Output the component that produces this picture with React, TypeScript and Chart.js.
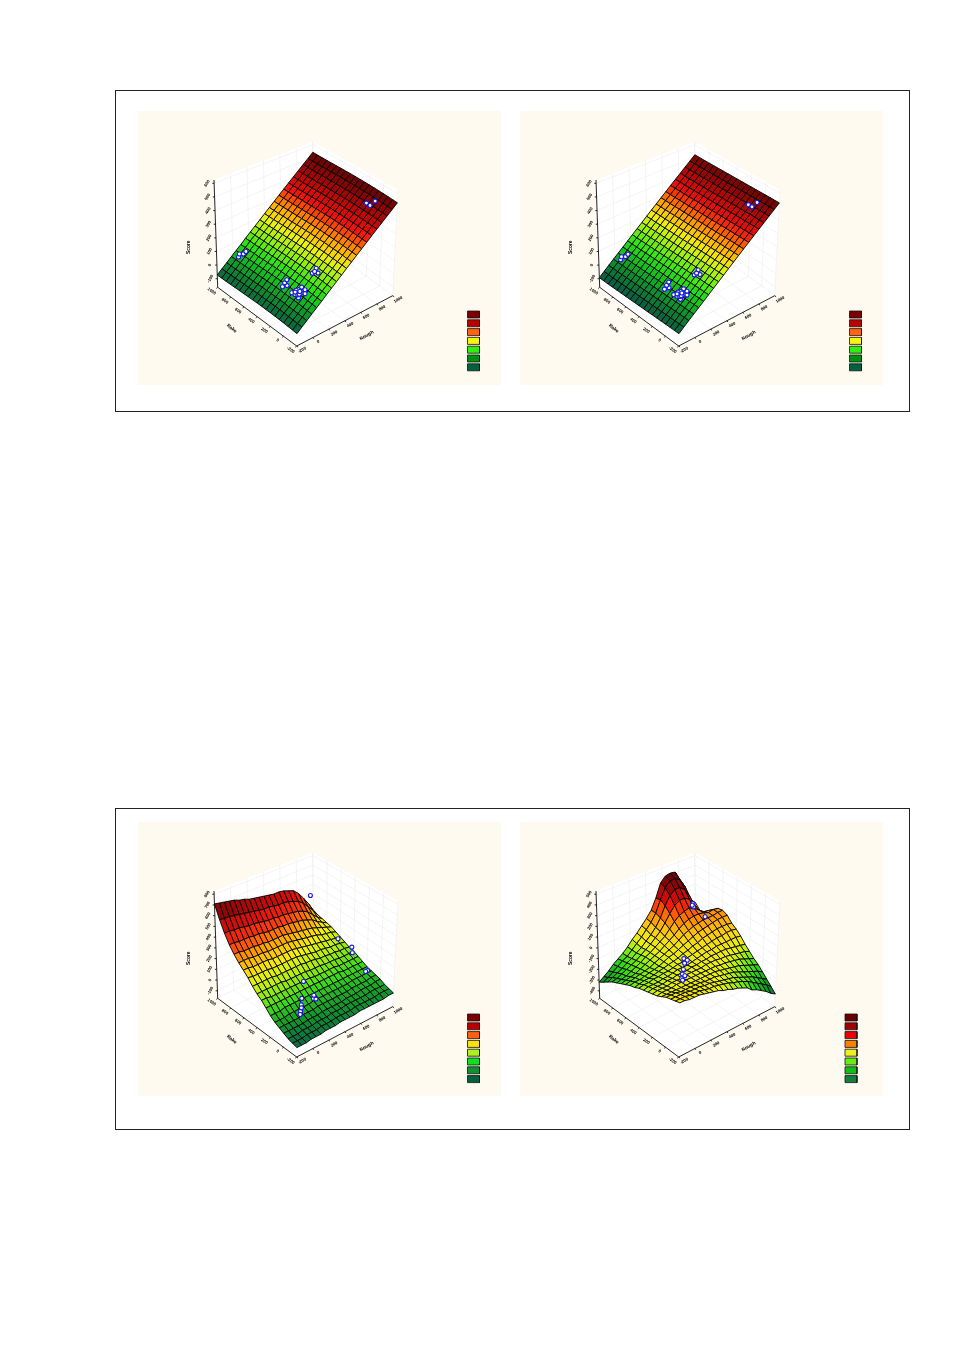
import React, { useEffect, useRef } from "react";
import { Chart, registerables } from "chart.js";

Chart.register(...registerables);

// ---- axis labels (the reference prints them at about 4px, so these are best readings)
const xTickValues = [-200, 0, 200, 400, 600, 800, 1000];
const yTickValues = [-200, 0, 200, 400, 600, 800, 1000];
const xTitle = "Rough";
const yTitle = "Rake";
const zTitle = "Score";

// Heights are read as a percentage of the z axis height.
const zTicks1 = [8, 20.7, 33.4, 46.1, 58.8, 71.5, 84.2, 96.9];
const zLabels1 = ["-100", "0", "100", "200", "300", "400", "500", "600"];
const zTicks3 = [7, 17, 27, 37, 47, 57, 67, 77, 87, 97];
const zLabels3 = ["-100", "0", "100", "200", "300", "400", "500", "600", "700", "800"];
const zLabels4 = ["-400", "-300", "-200", "-100", "0", "100", "200", "300", "400", "500"];

// ---- surfaces: height along x, plus a small bow along y, for the two flat panels
const profile1 = [11.5, 15, 18.4, 22, 25.5, 29, 32.8, 36.5, 40.2, 44, 47.9, 51.8, 55.7, 59.7, 63.7, 67.8, 71.9, 76, 80.3, 84.5, 88.9];
const bow1 = [-1, -0.7, -0.4, -0.1, 0.1, 0.3, 0.4, 0.5, 0.6, 0.6, 0.6, 0.5, 0.4, 0.3, 0.2, 0.1, 0, 0, 0];
const profile2 = [9, 12.5, 16, 19.5, 23, 26.5, 30.2, 33.9, 37.6, 41.4, 45.3, 49.2, 53.1, 57.1, 61.1, 65.2, 69.3, 73.4, 77.7, 81.9, 86.3];
const bow2 = [1.5, 1.4, 1.4, 1.3, 1.2, 1.1, 1, 0.9, 0.8, 0.7, 0.6, 0.5, 0.4, 0.3, 0.2, 0.1, 0, 0, 0];

// rows run along y (front to back), columns along x
const surface3 = [
  [8,8,8,9,9,9,10,10,10,11,11,11,11,12,12,12,12,12,12,13,13],
  [9,9,9,10,10,10,11,11,11,12,12,12,12,13,13,13,13,13,14,14,14],
  [10,10,10,11,11,11,12,12,12,13,13,13,14,14,14,14,14,15,15,15,15],
  [12,12,12,12,12,13,13,13,14,14,14,14,14,15,15,15,16,16,16,17,17],
  [14,14,14,14,14,15,15,15,16,16,16,16,16,16,16,17,17,17,17,18,18],
  [16,16,16,17,17,17,17,17,18,18,18,18,18,18,18,18,19,19,19,19,19],
  [19,19,19,20,20,20,20,20,20,20,20,20,20,20,20,20,20,20,20,20,20],
  [23,23,23,23,23,23,23,23,23,23,23,23,23,23,23,23,22,22,22,22,22],
  [27,27,26,26,26,26,26,26,26,26,26,25,25,25,25,25,24,24,24,24,24],
  [30,30,30,30,30,30,29,29,29,29,29,28,28,28,27,27,27,26,26,26,26],
  [34,34,34,34,34,33,33,33,33,33,33,32,32,31,30,30,29,29,28,28,27],
  [39,38,38,38,38,37,37,37,37,37,37,36,35,34,33,33,32,31,31,30,29],
  [43,43,42,42,42,42,41,41,41,41,41,40,39,38,37,36,35,34,33,32,31],
  [47,47,47,46,46,46,45,45,45,45,45,44,43,42,41,40,39,37,36,35,33],
  [52,52,51,51,51,50,50,49,49,49,49,48,47,46,45,44,43,41,39,37,35],
  [58,58,57,57,57,56,56,55,54,54,54,53,53,52,51,50,48,46,42,39,36],
  [66,66,65,65,64,63,63,62,61,60,60,59,59,58,57,56,54,51,46,41,37],
  [76,75,75,74,73,72,71,70,69,68,68,67,66,66,65,63,61,57,51,45,38],
  [88,87,86,85,84,82,81,79,78,77,76,75,74,74,73,71,69,64,57,49,40],
];

const surface4 = [
  [46,46,45,45,45,44,43,42,41,39,38,36,35,33,31,27,25,22,19,15,12],
  [45,45,45,44,44,44,43,42,42,41,40,39,37,36,34,32,29,26,23,20,16],
  [44,44,44,44,43,43,43,42,42,41,40,39,38,37,35,33,31,29,26,23,20],
  [43,43,43,42,42,42,42,42,41,41,41,40,39,38,37,35,33,31,29,27,24],
  [41,41,41,41,41,41,41,41,41,41,41,41,40,39,38,37,36,34,32,30,28],
  [39,40,40,40,41,41,41,41,41,41,41,41,41,40,40,39,38,37,35,33,31],
  [38,39,39,39,40,40,40,41,41,41,41,42,42,42,41,41,40,39,38,37,35],
  [37,38,38,38,39,39,40,40,40,41,41,42,42,43,43,43,43,42,41,40,39],
  [36,37,37,37,38,38,39,40,40,40,41,42,43,44,44,45,45,45,45,45,44],
  [35,36,36,37,37,38,38,39,40,40,42,43,44,45,46,47,48,48,49,49,48],
  [33,34,35,35,36,37,38,39,40,41,43,44,46,47,49,50,51,52,52,52,51],
  [32,33,33,34,35,36,37,39,41,42,44,46,48,50,52,53,54,55,56,56,56],
  [30,31,32,33,34,35,37,39,41,43,45,48,51,53,55,56,57,57,57,58,58],
  [28,29,30,31,33,35,37,39,41,44,47,50,54,57,59,60,60,59,57,58,57],
  [26,27,28,30,32,34,37,39,42,45,48,53,58,62,64,65,63,59,55,54,52],
  [24,25,27,29,31,33,36,39,42,46,50,56,63,69,72,72,69,62,52,47,44],
  [21,23,25,27,30,32,35,38,42,46,51,58,68,76,80,80,76,67,52,44,40],
  [18,20,23,26,29,31,35,39,43,48,53,60,71,81,86,86,83,74,56,47,43],
  [15,18,21,25,28,31,35,40,44,49,54,60,70,83,88,89,88,78,62,53,48],
];

// ---- observations: [x, y] sit on the surface, [x, y, height] are read with their height
const points12 = [
  [875,90],[875,38],[922,22],[9,927],[32,941],[50,903],[77,897],
  [39,240],[45,284],[11,275],[74,286],
  [16,143],[20,98],[15,41],[56,52],[93,39],[94,90],[64,104],[69,9],[50,120],
  [30,70],[40,60],[60,75],[35,115],
  [224,89],[270,88],[249,35],[244,80],
];
const points3 = [
  [916,940,61],[964,592,31],[964,388,32],[952,364,28],[964,148,20],[940,148,20],
  [316,328,26],[196,208,20],[160,172,17],[112,124,15],[88,100,14],[142,148,16],
  [280,136,20],[292,112,20],[316,172,20],
];
const points4 = [
  [364,412,42],[371,370,42],[318,346,42],[242,273,42],[184,219,42],[185,183,42],[128,164,42],[118,137,42],
  [946,970,50],[947,962,47],[924,954,50],[975,826,42],
];

// ---- colours
const levels1 = [11, 18, 25, 32, 40, 47, 54, 60, 66, 74, 82, 88];
const ramp1 = ["#0a6040","#0e8a30","#15c020","#33e615","#a0f010","#f0f010","#ffb000","#ff6000","#f01010","#c00808","#8a0505","#6a0404"];
const levels3 = [8, 14, 22, 30, 38, 47, 56, 66, 78, 88];
const ramp3 = ["#0a6a45","#139a2a","#3fdc1a","#b0ee10","#f5f010","#ffaa00","#ff4010","#e01010","#a00808","#6a0404"];
const levels4 = [12, 20, 28, 34, 40, 46, 52, 58, 64, 70, 78, 88];
const ramp4 = ["#0d6b3f","#12a020","#30d818","#80ee10","#e8f015","#f5e010","#ffc010","#ff8c00","#ff5000","#f01010","#a80808","#6a0404"];

const legend7 = ["#7a0000","#b80000","#ff6410","#f5f510","#33ee11","#009010","#006040"];
const legend8a = ["#7a0000","#b80000","#ff6010","#ffe010","#b0f020","#10e020","#109030","#006040"];
const legend8b = ["#6a0000","#a00000","#f00000","#ff8000","#f0f020","#66ee10","#10c010","#108040"];

// ---- geometry of the 3D box, in panel pixels
const W = 363;
const H = 274;
const BOX = {
  F: [158.7, 235], R: [254.7, 184.7], L: [79.7, 176.3], B: [175.7, 126],
  Ft: [161.3, 117.3], Rt: [260, 79], Lt: [76, 69], Bt: [174.7, 30.7],
};
const NU = 20;
const NV = 18;

function project(x: number, y: number, z: number) {
  const u = (x + 200) / 1200;
  const v = (y + 200) / 1200;
  const w = z / 100;
  const bil = (a: number[], b: number[], c: number[], d: number[], k: number) =>
    (1 - u) * (1 - v) * a[k] + u * (1 - v) * b[k] + (1 - u) * v * c[k] + u * v * d[k];
  const px = (k: number) =>
    (1 - w) * bil(BOX.F, BOX.R, BOX.L, BOX.B, k) + w * bil(BOX.Ft, BOX.Rt, BOX.Lt, BOX.Bt, k);
  return { x: px(0), y: px(1) };
}

function rampColor(levels: number[], ramp: string[], value: number) {
  const rgb = (h: string) => [1, 3, 5].map((i) => parseInt(h.slice(i, i + 2), 16));
  if (value <= levels[0]) return ramp[0];
  for (let i = 1; i < levels.length; i++) {
    if (value <= levels[i]) {
      const t = (value - levels[i - 1]) / (levels[i] - levels[i - 1]);
      const a = rgb(ramp[i - 1]);
      const b = rgb(ramp[i]);
      const c = a.map((q, k) => Math.round(q + (b[k] - q) * t));
      return `rgb(${c[0]},${c[1]},${c[2]})`;
    }
  }
  return ramp[ramp.length - 1];
}

type PanelSpec = {
  left: number;
  top: number;
  grid: number[][];
  levels: number[];
  ramp: string[];
  legend: string[];
  legendX: number;
  legendTop: number;
  points: number[][];
  zTicks: number[];
  zLabels: string[];
};

const flatGrid = (profile: number[], bow: number[]) => bow.map((b) => profile.map((p) => p + b));

const panels: PanelSpec[] = [
  { left: 138, top: 111, grid: flatGrid(profile1, bow1), levels: levels1, ramp: ramp1, legend: legend7, legendX: 329.5, legendTop: 200, points: points12, zTicks: zTicks1, zLabels: zLabels1 },
  { left: 520, top: 111, grid: flatGrid(profile2, bow2), levels: levels1, ramp: ramp1, legend: legend7, legendX: 329.5, legendTop: 200, points: points12, zTicks: zTicks1, zLabels: zLabels1 },
  { left: 138, top: 822, grid: surface3, levels: levels3, ramp: ramp3, legend: legend8a, legendX: 329.5, legendTop: 192, points: points3, zTicks: zTicks3, zLabels: zLabels3 },
  { left: 520, top: 822, grid: surface4, levels: levels4, ramp: ramp4, legend: legend8b, legendX: 325, legendTop: 192, points: points4, zTicks: zTicks3, zLabels: zLabels4 },
];

const nodeX = (i: number) => -200 + (1200 * i) / NU;
const nodeY = (j: number) => -200 + (1200 * j) / NV;

function heightAt(grid: number[][], x: number, y: number) {
  const fi = Math.min(NU - 0.001, ((x + 200) / 1200) * NU);
  const fj = Math.min(NV - 0.001, ((y + 200) / 1200) * NV);
  const i = Math.floor(fi);
  const j = Math.floor(fj);
  const a = fi - i;
  const b = fj - j;
  return (
    (1 - a) * (1 - b) * grid[j][i] + a * (1 - b) * grid[j][i + 1] +
    (1 - a) * b * grid[j + 1][i] + a * b * grid[j + 1][i + 1]
  );
}

const poly = (pts: { x: number; y: number }[], fillC: string, line: string, lw: number) => ({
  data: [...pts, pts[0]],
  showLine: true,
  fill: "shape",
  backgroundColor: fillC,
  borderColor: line,
  borderWidth: lw,
  pointRadius: 0,
  borderJoinStyle: "round",
  tension: 0,
});

const path = (pts: any[], line: string, lw: number) => ({
  data: pts,
  showLine: true,
  fill: false,
  borderColor: line,
  borderWidth: lw,
  pointRadius: 0,
  spanGaps: false,
  tension: 0,
});

const GAP = { x: NaN, y: NaN };

function buildDatasets(p: PanelSpec) {
  const out: any[] = [];
  // observations on top
  out.push({
    data: p.points.map(([x, y, z]) => project(x, y, z === undefined ? heightAt(p.grid, x, y) : z)),
    showLine: false,
    pointRadius: 2,
    pointBorderWidth: 1.1,
    pointBackgroundColor: "#ffffff",
    pointBorderColor: "#1a1ae0",
  });
  // legend swatches
  p.legend.forEach((c, k) => {
    const t = p.legendTop + k * 8.8;
    const l = p.legendX;
    out.push(poly([{ x: l, y: t }, { x: l + 12, y: t }, { x: l + 12, y: t + 7 }, { x: l, y: t + 7 }], c, "#111111", 0.8));
  });
  // axes with tick marks
  const axisPts: any[] = [
    project(-200, -200, 0), project(1000, -200, 0), GAP,
    project(-200, -200, 0), project(-200, 1000, 0), GAP,
    project(-200, 1000, 0), project(-200, 1000, 100), GAP,
  ];
  xTickValues.forEach((t) => {
    const a = project(t, -200, 0);
    axisPts.push(a, { x: a.x + 1.4, y: a.y + 1.1 }, GAP);
  });
  yTickValues.forEach((t) => {
    const a = project(-200, t, 0);
    axisPts.push(a, { x: a.x - 1.4, y: a.y + 1.1 }, GAP);
  });
  p.zTicks.forEach((t) => {
    const a = project(-200, 1000, t);
    axisPts.push(a, { x: a.x - 1.8, y: a.y }, GAP);
  });
  out.push(path(axisPts, "#111111", 0.9));
  // surface cells, nearest first because the first dataset is painted last
  const cells: { depth: number; ds: any }[] = [];
  for (let j = 0; j < NV; j++) {
    for (let i = 0; i < NU; i++) {
      const h = [p.grid[j][i], p.grid[j][i + 1], p.grid[j + 1][i + 1], p.grid[j + 1][i]];
      const mean = (h[0] + h[1] + h[2] + h[3]) / 4;
      cells.push({
        depth: i + j,
        ds: poly(
          [
            project(nodeX(i), nodeY(j), h[0]),
            project(nodeX(i + 1), nodeY(j), h[1]),
            project(nodeX(i + 1), nodeY(j + 1), h[2]),
            project(nodeX(i), nodeY(j + 1), h[3]),
          ],
          rampColor(p.levels, p.ramp, mean),
          "#050505",
          0.95,
        ),
      });
    }
  }
  cells.sort((a, b) => a.depth - b.depth);
  cells.forEach((c) => out.push(c.ds));
  // faint wall and floor grid
  const gridPts: any[] = [];
  xTickValues.forEach((t) => {
    gridPts.push(project(t, -200, 0), project(t, 1000, 0), project(t, 1000, 100), GAP);
  });
  yTickValues.forEach((t) => {
    gridPts.push(project(-200, t, 0), project(1000, t, 0), project(1000, t, 100), GAP);
  });
  p.zTicks.forEach((t) => {
    gridPts.push(project(-200, 1000, t), project(1000, 1000, t), project(1000, -200, t), GAP);
  });
  out.push(path(gridPts, "#ececec", 0.6));
  // white box
  const c = (x: number, y: number, z: number) => project(x, y, z);
  out.push(poly([c(-200, -200, 0), c(1000, -200, 0), c(1000, 1000, 0), c(-200, 1000, 0)], "#ffffff", "#ffffff", 0));
  out.push(poly([c(-200, 1000, 0), c(1000, 1000, 0), c(1000, 1000, 100), c(-200, 1000, 100)], "#ffffff", "#ffffff", 0));
  out.push(poly([c(1000, 1000, 0), c(1000, -200, 0), c(1000, -200, 100), c(1000, 1000, 100)], "#ffffff", "#ffffff", 0));
  return out;
}

function axisTextPlugin(p: PanelSpec) {
  return {
    id: "axisText",
    afterDatasetsDraw(chart: any) {
      const { ctx, scales } = chart;
      const put = (text: string, at: { x: number; y: number }, dx: number, dy: number, deg: number, size: number) => {
        ctx.save();
        ctx.translate(scales.x.getPixelForValue(at.x) + dx, scales.y.getPixelForValue(at.y) + dy);
        ctx.rotate((deg * Math.PI) / 180);
        ctx.font = `bold ${size}px "Liberation Sans"`;
        ctx.fillStyle = "#000000";
        ctx.textAlign = "center";
        ctx.textBaseline = "middle";
        ctx.fillText(text, 0, 0);
        ctx.restore();
      };
      xTickValues.forEach((t) => put(String(t), project(t, -200, 0), 5.5, 4, -30, 4.2));
      yTickValues.forEach((t) => put(String(t), project(-200, t, 0), -6, 4, 35, 4.2));
      p.zTicks.forEach((t, k) => put(p.zLabels[k], project(-200, 1000, t), -7, 0, -60, 4.2));
      put(xTitle, project(600, -200, 0), 6, 23, -30, 4.8);
      put(yTitle, project(-200, 400, 0), -25.5, 11.7, 40, 4.8);
      put(zTitle, project(-200, 1000, 50), -27, 13.6, -90, 4.8);
    },
  };
}

function Panel({ spec }: { spec: PanelSpec }) {
  const ref = useRef<HTMLCanvasElement | null>(null);
  useEffect(() => {
    if (!ref.current) return;
    const chart = new Chart(ref.current, {
      type: "scatter",
      data: { datasets: buildDatasets(spec) },
      options: {
        animation: false,
        responsive: false,
        devicePixelRatio: 1,
        events: [],
        layout: { padding: 0, autoPadding: false },
        scales: {
          x: { type: "linear", min: 0, max: W, display: false },
          y: { type: "linear", min: 0, max: H, reverse: true, display: false },
        },
        plugins: { legend: { display: false }, tooltip: { enabled: false }, title: { display: false } },
      } as any,
      plugins: [axisTextPlugin(spec)],
    } as any);
    return () => chart.destroy();
  }, [spec]);
  return (
    <canvas
      ref={ref}
      width={W}
      height={H}
      style={{ position: "absolute", left: spec.left, top: spec.top, width: W, height: H, background: "#FFFAF0", filter: "blur(0.35px)" }}
    />
  );
}

const frame = (top: number, height: number): React.CSSProperties => ({
  position: "absolute",
  left: 115,
  top,
  width: 795,
  height,
  boxSizing: "border-box",
  border: "1px solid #222222",
});

export default function App() {
  return (
    <div style={{ position: "absolute", left: 0, top: 0, width: 954, height: 1350, background: "#ffffff", overflow: "hidden" }}>
      <div style={frame(90, 322)} />
      <div style={frame(808, 322)} />
      {panels.map((s, k) => (
        <Panel key={k} spec={s} />
      ))}
    </div>
  );
}
